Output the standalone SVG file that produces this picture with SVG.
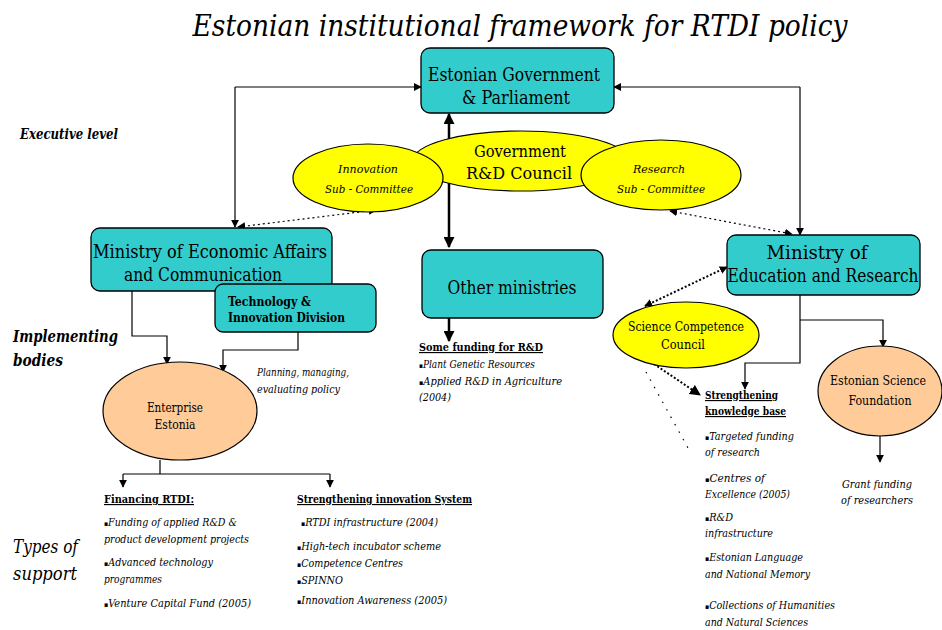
<svg xmlns="http://www.w3.org/2000/svg" width="942" height="630" viewBox="0 0 942 630" font-family="DejaVu Serif Condensed, DejaVu Serif, serif">
<defs>
<marker id="ah" viewBox="0 0 10 10" refX="9" refY="5" markerWidth="8" markerHeight="8" markerUnits="userSpaceOnUse" orient="auto-start-reverse"><path d="M0,0 L10,5 L0,10 z" fill="#000"/></marker>
<marker id="ahb" viewBox="0 0 10 10" refX="9" refY="5" markerWidth="11" markerHeight="11" markerUnits="userSpaceOnUse" orient="auto-start-reverse"><path d="M0,0 L10,5 L0,10 z" fill="#000"/></marker>
<style>
text{font-family:"DejaVu Serif Condensed","DejaVu Serif",serif;fill:#000}
.box{fill:#33CCCC;stroke:#000;stroke-width:1.3}
.yel{fill:#FFFF00;stroke:#000;stroke-width:1.2}
.pch{fill:#FFCC99;stroke:#000;stroke-width:1.2}
.ln{fill:none;stroke:#000;stroke-width:1.2}
.thk{fill:none;stroke:#000;stroke-width:2.5}
.dot{fill:none;stroke:#000;stroke-width:1.2;stroke-dasharray:2 3}
.dots{fill:none;stroke:#000;stroke-width:1.2;stroke-dasharray:1.5 7}
.dotk{fill:none;stroke:#000;stroke-width:2;stroke-dasharray:2 2}
.big{font-size:19px}
.it{font-style:italic}
.hd{font-weight:bold;font-size:11.5px;text-decoration:underline}
.sm{font-style:italic;font-size:11px}
.lab{font-style:italic;font-weight:bold}
.b{font-size:7px;font-style:normal}
</style>
</defs>
<text x="520" y="36" text-anchor="middle" class="it" font-size="29" textLength="655" lengthAdjust="spacingAndGlyphs">Estonian institutional framework for RTDI policy</text>
<g id="labels">
<text x="20" y="139" class="lab" font-size="15" textLength="98" lengthAdjust="spacingAndGlyphs">Executive level</text>
<text x="13" y="342" class="lab" font-size="17" textLength="105" lengthAdjust="spacingAndGlyphs">Implementing</text>
<text x="13" y="366" class="lab" font-size="17" textLength="50" lengthAdjust="spacingAndGlyphs">bodies</text>
<text x="13" y="553" class="it" font-size="19" textLength="65" lengthAdjust="spacingAndGlyphs">Types of</text>
<text x="13" y="580" class="it" font-size="19" textLength="64" lengthAdjust="spacingAndGlyphs">support</text>
</g>
<g id="connectors">
<path class="ln" d="M235,87 L421,87" marker-end="url(#ah)"/>
<path class="ln" d="M235,87 L235,227" marker-end="url(#ah)"/>
<path class="ln" d="M800,87 L614,87" marker-end="url(#ah)"/>
<path class="ln" d="M800,87 L800,235" marker-end="url(#ah)"/>
<path class="thk" d="M449,247 L449,114" marker-start="url(#ahb)" marker-end="url(#ahb)"/>
<path class="dot" d="M238,227 L376,210" marker-start="url(#ah)" marker-end="url(#ah)"/>
<path class="dot" d="M670,211 L792,234" marker-start="url(#ah)" marker-end="url(#ah)"/>
<path class="thk" d="M449,318 L449,341" marker-end="url(#ahb)"/>
<path class="ln" d="M132,291 L132,336 L167,336 L167,364" marker-end="url(#ah)"/>
<path class="ln" d="M298,332 L298,350 L223,350 L223,372" marker-end="url(#ah)"/>
<path class="ln" d="M160,460 L160,474 M123,474 L330,474"/>
<path class="ln" d="M123,474 L123,487" marker-end="url(#ah)"/>
<path class="ln" d="M330,474 L330,487" marker-end="url(#ah)"/>
<path class="dotk" d="M645,306 L727,267" marker-start="url(#ah)" marker-end="url(#ah)"/>
<path class="dotk" d="M654,364 L700,395" marker-end="url(#ahb)"/>
<path class="dots" d="M646,372 L688,448"/>
<path class="ln" d="M800,295 L800,363 L745,363 L745,389" marker-end="url(#ah)"/>
<path class="ln" d="M800,320 L883,320 L883,347" marker-end="url(#ah)"/>
<path class="ln" d="M880,436 L880,462" marker-end="url(#ah)"/>
</g>
<g id="gov">
<rect class="box" x="421" y="48" width="193" height="65" rx="9"/>
<text x="514" y="81" text-anchor="middle" class="big" textLength="172" lengthAdjust="spacingAndGlyphs">Estonian Government</text>
<text x="516" y="104" text-anchor="middle" class="big" textLength="108" lengthAdjust="spacingAndGlyphs">&amp; Parliament</text>
</g>
<g id="council">
<ellipse class="yel" cx="521" cy="161" rx="108" ry="30"/>
<text x="520" y="157" text-anchor="middle" font-size="16" textLength="92" lengthAdjust="spacingAndGlyphs">Government</text>
<text x="519" y="179" text-anchor="middle" font-size="16" textLength="106" lengthAdjust="spacingAndGlyphs">R&amp;D Council</text>
</g>
<g id="innov-sub">
<ellipse class="yel" cx="368" cy="178" rx="75" ry="34"/>
<text x="368" y="173" text-anchor="middle" class="it" font-size="11.5" textLength="60" lengthAdjust="spacingAndGlyphs">Innovation</text>
<text x="369" y="193" text-anchor="middle" class="it" font-size="11.5" textLength="88" lengthAdjust="spacingAndGlyphs">Sub - Committee</text>
</g>
<g id="research-sub">
<ellipse class="yel" cx="661" cy="175" rx="80" ry="35"/>
<text x="659" y="173" text-anchor="middle" class="it" font-size="11.5" textLength="52" lengthAdjust="spacingAndGlyphs">Research</text>
<text x="661" y="193" text-anchor="middle" class="it" font-size="11.5" textLength="88" lengthAdjust="spacingAndGlyphs">Sub - Committee</text>
</g>
<g id="meac">
<rect class="box" x="91" y="228" width="241" height="63" rx="9"/>
<text x="210" y="258" text-anchor="middle" class="big" textLength="234" lengthAdjust="spacingAndGlyphs">Ministry of Economic Affairs</text>
<text x="203" y="281" text-anchor="middle" class="big" textLength="158" lengthAdjust="spacingAndGlyphs">and Communication</text>
</g>
<g id="tech-div">
<rect class="box" x="215" y="284" width="161" height="48" rx="8"/>
<text x="228" y="306" font-size="13" font-weight="bold" textLength="83" lengthAdjust="spacingAndGlyphs">Technology &amp;</text>
<text x="228" y="322" font-size="13" font-weight="bold" textLength="117" lengthAdjust="spacingAndGlyphs">Innovation Division</text>
</g>
<g id="other">
<rect class="box" x="422" y="250" width="181" height="68" rx="9"/>
<text x="512" y="294" text-anchor="middle" class="big" textLength="129" lengthAdjust="spacingAndGlyphs">Other ministries</text>
</g>
<g id="mer">
<rect class="box" x="727" y="235" width="193" height="60" rx="9"/>
<text x="817" y="259" text-anchor="middle" class="big" textLength="101" lengthAdjust="spacingAndGlyphs">Ministry of</text>
<text x="823" y="282" text-anchor="middle" class="big" textLength="191" lengthAdjust="spacingAndGlyphs">Education and Research</text>
</g>
<g id="scc">
<ellipse class="yel" cx="686" cy="335" rx="73" ry="33"/>
<text x="686" y="331" text-anchor="middle" font-size="13" textLength="116" lengthAdjust="spacingAndGlyphs">Science Competence</text>
<text x="683" y="349" text-anchor="middle" font-size="13" textLength="44" lengthAdjust="spacingAndGlyphs">Council</text>
</g>
<g id="ee">
<ellipse class="pch" cx="180" cy="411" rx="77" ry="49"/>
<text x="175" y="412" text-anchor="middle" font-size="13" textLength="56" lengthAdjust="spacingAndGlyphs">Enterprise</text>
<text x="175" y="429" text-anchor="middle" font-size="13" textLength="41" lengthAdjust="spacingAndGlyphs">Estonia</text>
</g>
<g id="esf">
<ellipse class="pch" cx="880" cy="391" rx="62" ry="45"/>
<text x="878" y="385" text-anchor="middle" font-size="13" textLength="96" lengthAdjust="spacingAndGlyphs">Estonian Science</text>
<text x="880" y="405" text-anchor="middle" font-size="13" textLength="63" lengthAdjust="spacingAndGlyphs">Foundation</text>
</g>
<g id="texts">
<text x="257" y="376" class="sm" textLength="92" lengthAdjust="spacingAndGlyphs">Planning, managing,</text>
<text x="257" y="393" class="sm" textLength="83" lengthAdjust="spacingAndGlyphs">evaluating policy</text>
<text x="419" y="351" class="hd" textLength="124" lengthAdjust="spacingAndGlyphs">Some funding for R&amp;D</text>
<text x="419" y="368" class="sm" textLength="116" lengthAdjust="spacingAndGlyphs"><tspan class="b">▪</tspan>Plant Genetic Resources</text>
<text x="419" y="385" class="sm" textLength="143" lengthAdjust="spacingAndGlyphs"><tspan class="b">▪</tspan>Applied R&amp;D in Agriculture</text>
<text x="419" y="401" class="sm" textLength="32" lengthAdjust="spacingAndGlyphs">(2004)</text>
<text x="104" y="503" class="hd" textLength="90" lengthAdjust="spacingAndGlyphs">Financing RTDI:</text>
<text x="104" y="526" class="sm" textLength="133" lengthAdjust="spacingAndGlyphs"><tspan class="b">▪</tspan>Funding of applied R&amp;D &amp;</text>
<text x="104" y="543" class="sm" textLength="145" lengthAdjust="spacingAndGlyphs">product development projects</text>
<text x="104" y="566" class="sm" textLength="109" lengthAdjust="spacingAndGlyphs"><tspan class="b">▪</tspan>Advanced technology</text>
<text x="104" y="583" class="sm" textLength="58" lengthAdjust="spacingAndGlyphs">programmes</text>
<text x="104" y="607" class="sm" textLength="147" lengthAdjust="spacingAndGlyphs"><tspan class="b">▪</tspan>Venture Capital Fund (2005)</text>
<text x="297" y="503" class="hd" textLength="175" lengthAdjust="spacingAndGlyphs">Strengthening innovation System</text>
<text x="301" y="526" class="sm" textLength="137" lengthAdjust="spacingAndGlyphs"><tspan class="b">▪</tspan>RTDI infrastructure (2004)</text>
<text x="297" y="550" class="sm" textLength="144" lengthAdjust="spacingAndGlyphs"><tspan class="b">▪</tspan>High-tech incubator scheme</text>
<text x="297" y="567" class="sm" textLength="106" lengthAdjust="spacingAndGlyphs"><tspan class="b">▪</tspan>Competence Centres</text>
<text x="297" y="584" class="sm" textLength="46" lengthAdjust="spacingAndGlyphs"><tspan class="b">▪</tspan>SPINNO</text>
<text x="297" y="604" class="sm" textLength="150" lengthAdjust="spacingAndGlyphs"><tspan class="b">▪</tspan>Innovation Awareness (2005)</text>
<text x="705" y="399" class="hd" textLength="73" lengthAdjust="spacingAndGlyphs">Strengthening</text>
<text x="705" y="415" class="hd" textLength="81" lengthAdjust="spacingAndGlyphs">knowledge base</text>
<text x="705" y="440" class="sm" textLength="89" lengthAdjust="spacingAndGlyphs"><tspan class="b">▪</tspan>Targeted funding</text>
<text x="705" y="456" class="sm" textLength="55" lengthAdjust="spacingAndGlyphs">of research</text>
<text x="705" y="482" class="sm" textLength="60" lengthAdjust="spacingAndGlyphs"><tspan class="b">▪</tspan>Centres  of</text>
<text x="705" y="498" class="sm" textLength="85" lengthAdjust="spacingAndGlyphs">Excellence (2005)</text>
<text x="705" y="521" class="sm" textLength="28" lengthAdjust="spacingAndGlyphs"><tspan class="b">▪</tspan>R&amp;D</text>
<text x="705" y="537" class="sm" textLength="68" lengthAdjust="spacingAndGlyphs">infrastructure</text>
<text x="705" y="561" class="sm" textLength="98" lengthAdjust="spacingAndGlyphs"><tspan class="b">▪</tspan>Estonian Language</text>
<text x="705" y="578" class="sm" textLength="105" lengthAdjust="spacingAndGlyphs">and National Memory</text>
<text x="705" y="609" class="sm" textLength="130" lengthAdjust="spacingAndGlyphs"><tspan class="b">▪</tspan>Collections of Humanities</text>
<text x="705" y="626" class="sm" textLength="103" lengthAdjust="spacingAndGlyphs">and Natural Sciences</text>
<text x="877" y="488" text-anchor="middle" class="sm" textLength="70" lengthAdjust="spacingAndGlyphs">Grant funding</text>
<text x="877" y="504" text-anchor="middle" class="sm" textLength="72" lengthAdjust="spacingAndGlyphs">of researchers</text>
</g>
</svg>
